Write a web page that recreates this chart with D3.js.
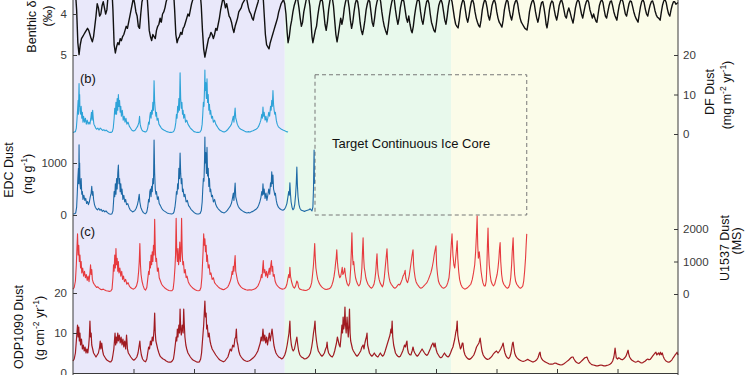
<!DOCTYPE html>
<html>
<head>
<meta charset="utf-8">
<script src="https://cdn.jsdelivr.net/npm/d3@7"></script>
<style>
  body { margin: 0; background: #fff; }
  text { font-family: "Liberation Sans", Arial, Helvetica, sans-serif; }
</style>
</head>
<body>
<svg id="chart" width="750" height="375"></svg>
<script>

// ---- data (age in kyr, value) ----

// climate regime bands (kyr)
var bands = [[0, 700], [700, 1250], [1250, 2000]];
// target continuous ice core window (kyr)
var targetCore = [800, 1500];
var ageTicks = [200, 400, 600, 800, 1000, 1200, 1400, 1600, 1800];

var benthicTicks = [4, 5];
var dfTicks = [0, 10, 20];
var edcTicks = [0, 1000];
var u1537Ticks = [0, 1000, 2000];
var odpTicks = [0, 10, 20];

// benthic d18O (permil)
var benthic = [
[0,3.23],[4,3.3],[8,3.45],[12,3.9],[16,4.7],[20,4.99],[24,4.75],[28,4.6],[32,4.55],[36,4.5],[40,4.45],[44,4.4],[48,4.35],[52,4.4],[56,4.5],[60,4.6],[64,4.68],[68,4.55],[72,4.3],[76,4.05],[80,3.75],[84,3.85],[88,4.05],[92,4.0],[96,3.8],[100,3.7],[104,3.85],[108,4.0],[112,3.9],[116,3.55],[120,3.25],[124,3.1],[128,3.3],[132,3.9],[136,4.75],[140,4.95],[144,4.8],[148,4.7],[152,4.75],[156,4.6],[160,4.65],[164,4.55],[168,4.5],[172,4.4],[176,4.3],[180,4.35],[184,4.2],[188,4.05],[192,3.9],[196,3.75],[200,3.6],[204,3.75],[208,3.95],[212,4.05],[216,4.3],[220,4.35],[224,4.0],[228,3.7],[232,3.6],[236,3.45],[240,3.35],[244,3.45],[248,3.9],[252,4.4],[256,4.55],[260,4.65],[264,4.5],[268,4.55],[272,4.6],[276,4.4],[280,4.3],[284,4.25],[288,4.1],[292,4.2],[296,4.0],[300,3.95],[304,3.85],[308,3.7],[312,3.6],[316,3.45],[320,3.4],[324,3.35],[328,3.2],[332,3.4],[336,3.9],[340,4.5],[344,4.7],[348,4.6],[352,4.55],[356,4.45],[360,4.5],[364,4.35],[368,4.3],[372,4.2],[376,4.1],[380,4.0],[384,4.05],[388,3.9],[392,3.75],[396,3.65],[400,3.45],[404,3.3],[408,3.2],[412,3.15],[416,3.25],[420,3.45],[424,3.8],[428,4.4],[432,4.85],[436,5.05],[440,4.9],[444,4.75],[448,4.6],[452,4.55],[456,4.45],[460,4.5],[464,4.6],[468,4.5],[472,4.35],[476,4.4],[480,4.25],[484,4.1],[488,3.9],[492,3.75],[496,3.6],[500,3.7],[504,3.85],[508,3.75],[512,3.9],[516,4.05],[520,4.1],[524,4.2],[528,4.35],[532,4.45],[536,4.3],[540,4.2],[544,4.1],[548,3.95],[552,3.9],[556,3.85],[560,3.75],[564,3.7],[568,3.65],[572,3.55],[576,3.7],[580,3.85],[584,3.95],[588,4.0],[592,4.1],[596,4.15],[600,4.0],[604,3.9],[608,3.8],[612,3.7],[616,3.55],[620,3.4],[624,3.3],[628,3.5],[632,4.0],[636,4.5],[640,4.75],[644,4.8],[648,4.85],[652,4.7],[656,4.6],[660,4.5],[664,4.4],[668,4.3],[672,4.2],[676,4.1],[680,3.95],[684,3.85],[688,3.75],[692,3.7],[696,3.65],
[700,3.75],[704,4.0],[708,4.45],[711,4.7],[715,4.55],[719,4.3],[723,4.15],[727,3.95],[731,3.8],[735,3.7],[739,3.6],[743,3.65],[747,3.85],[751,4.1],[755,4.3],[759,4.2],[763,3.95],[767,3.8],[771,3.65],[775,3.55],[779,3.6],[783,3.8],[787,4.2],[790,4.55],[793,4.7],[797,4.55],[801,4.4],[805,4.3],[809,4.05],[813,3.85],[817,3.7],[821,3.6],[825,3.7],[829,3.95],[833,4.25],[837,4.4],[841,4.2],[845,3.9],[849,3.7],[853,3.55],[857,3.6],[861,3.8],[865,4.15],[869,4.5],[873,4.68],[877,4.5],[881,4.3],[885,4.1],[889,4.25],[893,4.1],[897,3.85],[901,3.7],[905,3.6],[909,3.65],[913,3.85],[917,4.15],[921,4.35],[925,4.2],[929,3.95],[933,3.75],[937,3.65],[941,3.7],[945,3.9],[949,4.2],[953,4.4],[957,4.5],[961,4.35],[965,4.15],[969,3.9],[973,3.75],[977,3.65],[981,3.7],[985,3.95],[989,4.2],[993,4.3],[997,4.1],
[1001,3.85],[1005,3.7],[1009,3.6],[1013,3.55],[1017,3.7],[1021,3.95],[1025,4.15],[1029,4.3],[1033,4.4],[1038,4.5],[1042,4.3],[1046,4.05],[1050,3.85],[1054,3.7],[1058,3.6],[1062,3.65],[1066,3.9],[1070,4.1],[1074,4.25],[1078,4.1],[1082,3.85],[1086,3.7],[1090,3.6],[1094,3.7],[1098,3.9],[1102,4.1],[1106,4.2],[1110,4.05],[1114,4.25],[1118,4.4],[1121,4.46],[1125,4.3],[1129,4.05],[1133,3.85],[1137,3.7],[1141,3.6],[1145,3.7],[1149,3.95],[1153,4.15],[1157,4.25],[1161,4.05],[1165,3.85],[1169,3.7],[1173,3.65],[1177,3.75],[1181,4.0],[1185,4.2],[1189,4.3],[1193,4.4],[1197,4.44],[1201,4.25],[1205,4.0],[1209,3.8],[1213,3.7],[1217,3.65],[1221,3.75],[1225,3.95],[1229,4.15],[1233,4.25],[1237,4.05],[1241,3.8],[1245,3.65],[1249,3.6],[1253,3.7],[1257,3.9],[1261,4.1],[1265,4.25],[1269,4.3],[1273,4.34],[1277,4.15],[1281,3.9],[1285,3.75],[1289,3.65],[1293,3.7],[1297,3.9],
[1301,4.1],[1305,4.2],[1309,4.05],[1313,3.85],[1317,3.7],[1321,3.65],[1325,3.75],[1329,3.95],[1333,4.1],[1337,4.2],[1341,4.28],[1345,4.32],[1349,4.15],[1353,3.9],[1357,3.75],[1361,3.65],[1365,3.7],[1369,3.85],[1373,4.05],[1377,4.15],[1381,4.0],[1385,3.8],[1389,3.7],[1393,3.65],[1397,3.75],[1401,3.95],[1405,4.1],[1409,4.2],[1413,4.25],[1418,4.32],[1422,4.15],[1426,3.9],[1430,3.75],[1434,3.65],[1438,3.7],[1442,3.9],[1446,4.05],[1450,4.15],[1454,4.0],[1458,3.8],[1462,3.7],[1466,3.65],[1470,3.75],[1474,3.95],[1478,4.1],[1482,4.2],[1486,4.25],[1490,4.3],[1494,4.35],[1501,4.39],[1505,4.2],[1509,3.95],[1513,3.8],[1517,3.7],[1521,3.65],[1525,3.75],[1529,3.95],[1533,4.1],[1537,4.2],[1541,4.05],[1545,3.85],[1549,3.72],[1553,3.7],[1557,3.85],[1561,4.05],[1564,4.25],[1567,4.34],[1571,4.15],[1575,3.9],[1579,3.75],[1583,3.68],[1587,3.72],[1591,3.9],[1595,4.05],[1599,4.15],
[1603,4.0],[1607,3.8],[1611,3.7],[1615,3.65],[1619,3.75],[1623,3.9],[1627,4.05],[1631,4.1],[1635,3.95],[1639,3.85],[1643,3.95],[1648,4.1],[1653,4.22],[1657,4.05],[1661,3.85],[1665,3.72],[1669,3.65],[1673,3.7],[1677,3.85],[1681,4.0],[1685,4.1],[1689,3.95],[1693,3.8],[1697,3.7],[1701,3.65],[1705,3.72],[1709,3.9],[1713,4.0],[1717,4.1],[1721,4.0],[1725,4.1],[1729,4.18],[1732,4.2],[1736,4.0],[1740,3.8],[1744,3.7],[1748,3.65],[1752,3.72],[1756,3.9],[1760,4.05],[1764,4.1],[1768,3.95],[1772,3.8],[1776,3.7],[1780,3.68],[1784,3.8],[1788,3.95],[1792,4.05],[1795,4.1],[1798,4.15],[1802,3.95],[1806,3.78],[1810,3.68],[1814,3.62],[1818,3.7],[1822,3.85],[1826,4.0],[1830,4.05],[1834,3.9],[1838,3.75],[1842,3.68],[1846,3.7],[1850,3.82],[1854,3.95],[1858,4.05],[1862,4.12],[1868,4.2],[1872,4.0],[1876,3.82],[1880,3.7],[1884,3.65],[1888,3.72],[1892,3.88],[1896,4.0],
[1900,4.05],[1904,3.9],[1908,3.78],[1912,3.7],[1916,3.68],[1920,3.78],[1924,3.92],[1928,4.02],[1932,4.08],[1936,4.1],[1941,4.15],[1945,3.95],[1949,3.78],[1953,3.68],[1957,3.65],[1961,3.72],[1965,3.88],[1969,4.0],[1973,4.05],[1977,3.9],[1981,3.78],[1985,3.7],[1989,3.7],[1993,3.76],[1997,3.74],[2000,3.72]
];

// Dome Fuji dust flux (mg m-2 yr-1)
var dfDust = [
[0,0.4],[4,0.5],[8,0.6],[11,1.5],[13,3.5],[15,6],[17,8.5],[18,5],[19,9],[20,12.8],[21,7],[22,10],[23,6],[25,5],[27,7],[29,4],[31,5.5],[33,3],[35,4.5],[38,3],[41,4],[44,2.5],[47,3.5],[50,2.5],[53,3],[56,2.5],[59,4],[61,5.5],[63,3.5],[65,6],[67,4],[69,2.5],[72,2],[75,1.5],[78,1.2],[82,1.5],[86,1],[90,1.5],[94,1.2],[98,0.9],[102,1.1],[106,0.8],[110,1],[114,0.7],[118,0.5],[122,0.4],[126,0.4],[130,0.6],[133,1.5],[136,4],[138,6.5],[140,5],[142,8],[144,5],[146,9],[148,6],[150,10],[152,7],[154,8.5],[156,5.5],[158,7],[160,4.5],[163,6],[166,3.5],[169,4.5],[172,3],[175,4],[178,2.5],[182,3],[186,2],[190,1.5],[194,1],[198,0.8],
[202,0.8],[206,1],[210,1.5],[214,2],[218,3],[220,4.5],[222,2.5],[225,1.5],[228,1],[232,0.7],[236,0.6],[240,0.5],[244,0.8],[247,1.5],[250,3],[252,2.5],[254,4.5],[256,5.5],[258,4],[260,6],[262,5],[264,8],[266,6],[268,13.5],[270,8],[272,6],[274,4.5],[276,5.5],[278,3.5],[281,4],[284,2.5],[288,2],[292,1.5],[296,1.2],[300,1],[305,0.8],[310,0.6],[315,0.5],[320,0.4],[325,0.4],[330,0.5],[334,0.8],[337,1.5],[340,3],[342,5],[344,4],[346,7],[348,5.5],[350,9],[352,6],[354,15.5],[356,9],[358,6.5],[360,8],[362,5],[364,6],[366,4],[369,5],[372,3],[376,3.5],[380,2.5],[384,2],[388,1.5],[392,1.2],[396,0.9],
[400,0.6],[405,0.5],[410,0.4],[415,0.4],[420,0.5],[424,1],[427,2.5],[429,5],[431,8],[433,7],[435,12],[436,16.2],[437,11],[439,13],[441,9],[443,14],[445,8],[447,10],[449,6],[451,7.5],[453,5],[455,6],[458,4],[461,4.5],[464,3],[468,3.5],[472,2.5],[476,2],[480,1.5],[485,1],[490,0.8],[495,0.6],[500,0.5],[505,0.7],[510,1],[515,1.5],[520,2],[524,2.5],[527,3.5],[530,4.5],[532,3],[534,5],[536,6.6],[538,4],[540,3.5],[543,2.5],[546,2],[550,1.5],[555,1.2],[560,1],[565,0.8],[570,0.6],[575,0.5],[580,0.6],[585,0.5],[590,0.7],[595,0.8],
[600,1],[605,1.2],[610,1.5],[614,2],[618,2.8],[621,3.5],[624,5],[626,4],[628,6.8],[630,4.5],[632,5.5],[635,3.5],[638,4.5],[641,3],[644,4],[647,5.5],[650,4.5],[653,7],[655,6],[657,8.5],[659,7],[661,11],[663,7.5],[665,6],[667,5],[669,5.5],[672,3.5],[675,2.5],[679,1.8],[684,1.5],[689,1.2],[694,1],[700,0.8],[705,0.6],[711,0.5]
];

// EPICA Dome C dust concentration (ng g-1)
var edcDust = [
[0,20],[5,25],[9,40],[12,150],[14,400],[16,700],[18,900],[19,600],[20,1350],[21,800],[22,1000],[23,600],[25,500],[27,700],[29,400],[31,450],[33,300],[36,380],[39,280],[42,320],[45,220],[48,260],[51,200],[54,250],[57,350],[60,420],[62,550],[64,380],[66,450],[68,300],[71,200],[74,150],[77,120],[81,100],[85,130],[89,90],[93,110],[97,70],[101,90],[105,60],[109,80],[113,50],[117,30],[121,20],[125,15],[129,25],[132,80],[134,250],[136,450],[138,350],[140,600],[142,400],[144,700],[146,500],[148,800],[150,960],[152,600],[154,700],[156,450],[158,600],[160,400],[162,500],[165,300],[168,380],[171,250],[174,300],[177,200],[181,220],[185,150],[189,100],[193,80],[197,60],
[201,70],[205,90],[209,130],[213,200],[216,280],[219,400],[221,250],[224,150],[228,90],[232,50],[236,30],[240,25],[244,60],[247,150],[250,300],[252,250],[254,450],[256,500],[258,350],[260,550],[262,450],[264,700],[266,600],[268,1440],[270,800],[272,500],[274,400],[276,450],[279,300],[282,350],[285,220],[289,180],[293,130],[297,100],[301,80],[306,60],[311,40],[316,30],[321,25],[326,20],[331,30],[334,60],[337,150],[340,300],[342,450],[344,400],[346,600],[348,500],[350,900],[352,700],[354,1190],[356,800],[358,600],[360,700],[362,450],[364,500],[367,350],[370,400],[374,250],[378,280],[382,180],[386,150],[390,110],[395,80],
[400,50],[405,30],[410,20],[415,20],[420,30],[424,80],[427,250],[429,500],[431,700],[433,650],[435,1100],[436,1500],[437,1000],[439,1200],[441,800],[443,1300],[445,750],[447,900],[449,550],[451,700],[453,450],[455,500],[458,350],[461,380],[464,250],[468,300],[472,200],[476,150],[480,120],[485,90],[490,60],[495,50],[500,40],[505,60],[510,90],[515,130],[520,170],[524,230],[527,320],[530,420],[532,280],[534,450],[536,615],[538,350],[540,300],[543,220],[546,170],[550,130],[555,100],[560,80],[565,60],[570,50],[575,40],[580,50],[585,40],[590,60],[595,70],
[600,90],[605,110],[610,140],[614,190],[618,260],[621,330],[624,450],[626,380],[628,600],[630,400],[632,500],[635,320],[638,420],[641,280],[644,380],[647,500],[650,400],[653,620],[655,550],[657,830],[659,600],[661,770],[663,500],[665,450],[667,380],[669,420],[672,280],[675,200],[679,150],[684,120],[689,100],[694,90],[699,110],[703,150],[707,220],[710,330],[713,450],[715,380],[717,620],[719,400],[721,250],[724,150],[727,100],[730,120],[733,200],[736,400],[738,600],[740,920],[742,550],[744,350],[747,200],[750,130],[755,90],[760,80],[765,70],[770,80],[775,90],[780,100],[784,120],[787,100],[790,80],[793,150],[795,500],[797,1250],[798,600]
];

// U1537 dust (magnetic susceptibility)
var u1537Dust = [
[0,150],[4,200],[8,400],[11,900],[13,1400],[15,1850],[17,1200],[19,1500],[21,1000],[23,1200],[25,800],[27,1000],[29,650],[32,800],[35,550],[38,700],[41,500],[44,600],[47,420],[50,550],[53,380],[56,650],[58,900],[60,600],[62,750],[64,450],[67,350],[70,300],[74,250],[78,200],[82,220],[86,180],[90,150],[95,130],[100,150],[105,120],[110,100],[115,90],[120,80],[125,90],[129,150],[132,500],[134,900],[136,700],[138,1200],[140,800],[142,1400],[144,900],[146,1100],[148,700],[150,1000],[152,650],[155,800],[158,550],[161,700],[164,450],[167,550],[170,380],[174,450],[178,300],[182,350],[186,250],[190,200],[195,170],
[200,150],[205,180],[210,250],[214,400],[217,700],[219,1000],[221,1550],[223,900],[225,600],[228,400],[232,250],[236,150],[240,120],[244,200],[247,450],[250,700],[252,600],[254,1000],[256,800],[258,1200],[260,900],[262,1300],[264,1000],[266,1500],[268,1200],[270,2300],[272,1400],[274,1000],[276,1100],[279,700],[282,800],[285,500],[289,400],[293,300],[297,250],[302,200],[307,160],[312,130],[317,110],[322,100],[327,100],[331,150],[334,400],[337,800],[339,1200],[341,2330],[343,1300],[345,1000],[347,1400],[349,900],[351,1100],[353,1600],[355,1000],[357,1300],[359,2330],[361,1300],[363,900],[365,1000],[368,650],[371,750],[374,500],[377,550],[381,380],[385,300],[389,250],[394,200],[399,160],
[404,130],[409,110],[414,100],[419,110],[423,200],[426,500],[428,900],[430,1300],[432,1850],[434,1500],[436,1700],[438,1300],[440,1500],[442,1000],[444,1200],[447,800],[450,900],[453,600],[456,650],[460,450],[464,500],[468,350],[472,300],[477,250],[482,200],[487,170],[492,150],[497,130],[502,150],[507,180],[512,220],[516,300],[520,400],[523,500],[526,700],[528,600],[530,850],[532,700],[534,950],[536,1180],[538,700],[540,600],[543,450],[546,350],[550,280],[555,220],[560,180],[566,150],[572,130],[578,120],[584,130],[590,120],[596,140],
[602,160],[607,200],[612,260],[616,350],[620,450],[623,600],[625,500],[627,800],[629,1030],[631,650],[634,750],[637,550],[640,700],[643,500],[646,650],[649,800],[651,600],[654,900],[656,1030],[658,700],[660,850],[662,550],[665,600],[668,400],[672,300],[676,250],[681,200],[686,170],[692,150],[698,160],[703,200],[707,300],[710,450],[713,600],[715,500],[717,820],[719,550],[722,400],[725,300],[728,220],[732,180],[736,250],[740,400],[743,350],[746,200],[750,150],[756,130],[762,120],[768,110],[774,120],[780,150],[785,220],[789,350],[792,600],[795,900],[797,1200],[799,1550],
[801,1100],[803,800],[806,600],[809,450],[813,350],[817,280],[822,220],[827,180],[832,150],[837,140],[842,150],[847,160],[852,200],[856,280],[860,400],[863,550],[866,750],[868,950],[870,1100],[872,1360],[874,1000],[876,800],[879,600],[882,500],[885,550],[888,700],[890,820],[892,600],[895,650],[898,800],[901,550],[904,400],[907,300],[911,250],[915,350],[918,800],[920,1300],[922,1880],[924,1200],[926,900],[928,1000],[931,700],[934,500],[937,400],[941,300],[945,250],[949,300],[952,450],[955,800],[957,1300],[959,1730],[961,1100],[963,800],[965,700],[968,500],[971,400],[975,300],[979,250],[983,200],[987,180],[991,220],[995,300],[998,450],
[1001,700],[1003,1000],[1005,1240],[1007,800],[1009,600],[1012,450],[1015,350],[1019,280],[1023,220],[1026,300],[1029,500],[1032,800],[1035,1100],[1038,1390],[1040,1000],[1042,700],[1045,500],[1048,380],[1052,300],[1056,250],[1060,200],[1064,180],[1068,200],[1072,250],[1076,300],[1080,280],[1084,350],[1088,450],[1091,550],[1094,600],[1096,650],[1098,730],[1100,500],[1103,400],[1106,350],[1109,450],[1112,600],[1115,800],[1118,1000],[1121,1200],[1124,1360],[1126,900],[1128,700],[1131,500],[1134,380],[1138,300],[1142,250],[1146,200],[1150,180],[1155,200],[1160,250],[1165,300],[1170,350],[1175,450],[1179,550],[1183,650],[1187,800],[1191,1000],[1194,1200],[1197,1350],
[1200,1480],[1202,900],[1205,600],[1208,400],[1212,300],[1216,250],[1220,200],[1225,180],[1230,200],[1235,250],[1239,350],[1243,500],[1246,800],[1249,1300],[1251,1600],[1253,1850],[1256,1200],[1259,900],[1262,800],[1265,1100],[1268,1400],[1270,1640],[1272,1100],[1275,700],[1278,450],[1282,300],[1286,220],[1290,180],[1295,150],[1300,170],[1305,200],[1310,250],[1315,300],[1320,450],[1324,650],[1328,900],[1331,1300],[1334,1900],[1336,2400],[1338,1500],[1340,1100],[1343,1300],[1346,1000],[1349,700],[1352,500],[1355,350],[1359,250],[1363,250],[1366,400],[1368,800],[1370,1500],[1372,2030],[1374,1300],[1376,900],[1379,600],[1382,400],[1386,300],[1390,250],[1394,300],[1398,450],
[1402,600],[1405,800],[1408,1100],[1410,1400],[1412,1580],[1414,1000],[1417,600],[1420,400],[1424,300],[1428,250],[1432,200],[1436,180],[1440,200],[1444,300],[1447,500],[1450,900],[1452,1300],[1455,1730],[1457,1100],[1460,600],[1463,400],[1467,300],[1471,250],[1475,200],[1479,180],[1483,200],[1487,250],[1490,400],[1493,700],[1496,1100],[1498,1500],[1500,1850]
];

// ODP1090 dust flux (g cm-2 yr-1)
var odp1090Dust = [
[0,3],[4,3.5],[8,5],[11,8],[13,10],[15,12],[17,9],[19,11.5],[21,8],[23,10],[25,7],[28,8.5],[31,6],[34,7],[37,5.5],[40,6.5],[43,5],[46,6],[49,5],[52,7],[54,9],[56,13],[58,9],[60,10],[62,7],[65,6],[68,5],[72,4.5],[76,4],[80,4.5],[84,5],[88,6.5],[90,8],[92,6],[95,7.5],[98,5.5],[101,4.5],[105,4],[109,3.5],[113,3.2],[117,3],[121,2.8],[125,2.8],[129,3.2],[132,4.5],[135,6],[137,8],[139,10],[141,7],[143,9],[145,7.5],[148,10],[150,8],[153,9.5],[156,7.5],[159,9],[162,7],[165,8.5],[168,6.5],[171,8],[174,6],[177,9.5],[180,6],[183,5],[187,4.5],[191,4],[196,3.5],
[201,3.2],[206,3.5],[211,4],[215,5],[218,6.5],[221,8],[223,6],[226,4.5],[230,3.5],[235,3],[240,2.8],[244,3.5],[247,5],[250,6.5],[253,6],[256,8],[259,7],[262,9],[265,8],[268,11],[270,15],[272,10],[274,8],[277,7],[280,6],[284,5],[288,4.2],[293,3.8],[298,3.5],[303,3.3],[308,3],[313,2.8],[318,2.7],[323,2.7],[328,3],[332,3.5],[335,5],[338,7],[341,9],[343,8],[345,11],[347,9],[350,12],[352,10],[354,16],[356,11],[358,9.5],[361,12],[364,10],[366,16],[368,12],[370,9],[373,7],[376,6],[380,5],[384,4.5],[388,4],[393,3.5],[398,3.2],
[403,3],[408,2.8],[413,2.7],[418,2.8],[422,3.5],[425,5],[428,8],[430,10],[432,12],[434,15],[436,18],[438,14],[440,15],[442,11],[444,12],[447,9],[450,10],[453,8],[456,7],[460,6],[464,5.5],[468,5],[472,4.5],[477,4],[482,3.5],[487,3.2],[492,3],[497,2.8],[502,3],[507,3.5],[512,4],[516,5],[520,6],[524,5.5],[528,7],[532,6.5],[535,8.5],[538,9],[540,11],[542,8],[545,7],[548,5.5],[552,4.5],[556,4],[561,3.5],[566,3.2],[571,3],[576,2.9],[581,3],[586,3.2],[591,3.5],[596,3.8],
[601,4.2],[606,4.8],[611,5.5],[615,6.5],[619,7.5],[622,9],[625,8],[628,11],[631,8],[634,9.5],[637,7.5],[640,9],[643,7],[646,8.5],[649,10],[652,8],[655,9.5],[658,11],[661,9],[664,7],[667,6],[671,5],[675,4.5],[680,4],[685,3.8],[690,3.5],[695,3.8],[700,4.5],[704,5.5],[708,7],[711,8.5],[714,10],[717,13],[719,9],[722,7],[725,6],[728,5.5],[732,6],[736,7.5],[740,9],[743,7],[746,5.5],[750,4.5],[755,4],[760,3.8],[765,3.5],[770,3.6],[775,3.8],[780,4.2],[785,5],[789,6.5],[792,8],[795,10],[798,11.5],
[800,13],[802,10],[805,8],[808,6.5],[811,5.5],[815,5],[819,4.5],[823,4.2],[827,4.5],[831,5],[835,6],[838,6.5],[840,7.7],[842,6],[845,5],[849,4.5],[853,4.2],[857,4],[861,4.5],[865,5.5],[868,6.5],[871,7.5],[874,9],[877,8],[880,7],[883,6.5],[886,9],[889,12],[891,10],[893,14],[895,11],[897,12],[899,16.5],[901,12],[903,10],[906,14],[908,11],[910,9],[912,12],[914,16],[916,10],[918,8],[921,7],[924,6],[927,5.5],[931,5],[935,4.5],[939,4.2],[943,4.5],[947,5],[951,5.5],[955,6.5],[959,7],[962,6],[965,7.5],[968,8.5],[970,9],[972,10],[974,7],[977,6],[980,5],[984,4.5],[988,4.2],[992,4.5],[996,5],
[1000,4.5],[1004,4.2],[1008,4],[1012,4.5],[1016,5],[1020,4.5],[1024,4.2],[1028,4.6],[1032,5.5],[1036,6.5],[1040,7.5],[1044,8.5],[1048,9.5],[1051,11],[1053,10],[1055,13],[1057,9],[1060,7],[1063,6],[1066,5],[1070,4.5],[1074,4.2],[1078,4],[1082,4.2],[1086,4.8],[1090,5.5],[1093,6.2],[1096,7],[1099,6.5],[1102,7.5],[1104,8],[1106,6],[1109,5],[1113,4.6],[1117,4.5],[1121,5.5],[1124,6.5],[1127,5.5],[1130,5],[1134,4.5],[1138,4.2],[1142,4.5],[1146,5],[1150,5.5],[1154,6],[1158,5.5],[1162,5],[1166,4.6],[1170,4.4],[1174,4.8],[1178,5.5],[1182,6.2],[1186,7],[1190,7.5],[1194,6.5],[1197,7.5],
[1200,6],[1204,5],[1208,4.5],[1212,4],[1216,3.8],[1220,4],[1224,4.5],[1228,5],[1232,4.5],[1236,4.2],[1240,4],[1244,4.3],[1248,5],[1252,5.8],[1256,6.5],[1259,7.5],[1262,8.5],[1265,10],[1268,11],[1270,13],[1272,9.5],[1275,8],[1278,7],[1281,6],[1284,6.5],[1287,7.5],[1289,7.5],[1292,5.5],[1296,4.5],[1300,4],[1305,3.6],[1310,3.4],[1315,3.6],[1320,4],[1325,4.5],[1330,5.5],[1334,6.5],[1338,7],[1342,7.5],[1346,8.7],[1349,7],[1352,5.5],[1356,4.5],[1360,4],[1365,3.6],[1370,3.4],[1375,3.5],[1380,3.8],[1385,4.2],[1390,4.8],[1395,5.2],
[1400,5.5],[1405,5],[1410,5.5],[1415,6.2],[1419,6.8],[1422,7.5],[1425,6],[1428,5],[1432,4.2],[1436,3.8],[1440,3.6],[1444,4],[1448,5],[1451,6.5],[1453,7.5],[1455,7.7],[1457,6.5],[1460,5],[1464,4.2],[1468,3.8],[1473,3.4],[1478,3.2],[1483,3],[1488,2.9],[1493,3],[1498,3.2],[1503,3.4],[1508,3.2],[1513,3],[1518,2.8],[1523,2.8],[1528,3],[1533,3.3],[1537,3.8],[1540,4.5],[1542,5],[1544,5.2],[1546,4.2],[1549,3.6],[1553,3.2],[1558,2.9],[1563,2.7],[1568,2.5],[1573,2.3],[1578,2.2],[1583,2.2],[1588,2.3],[1593,2.5],[1598,2.4],
[1603,2.2],[1608,2.1],[1613,2.0],[1618,2.1],[1623,2.3],[1628,2.6],[1633,2.9],[1638,3.2],[1642,3.5],[1646,3.8],[1650,4],[1653,4],[1656,3.5],[1660,3],[1664,2.7],[1668,2.5],[1672,2.4],[1676,2.6],[1680,2.9],[1684,3.2],[1688,3.5],[1692,3.8],[1696,3.9],[1699,4],[1702,3.4],[1706,2.8],[1710,2.4],[1715,2.1],[1720,2],[1725,1.9],[1730,1.8],[1735,1.8],[1740,1.9],[1745,2],[1750,1.9],[1755,1.8],[1760,1.8],[1765,1.9],[1770,2],[1775,2.2],[1780,2.5],[1784,3],[1788,4],[1790,5],[1792,6.2],[1794,5],[1796,3.8],
[1800,3.5],[1804,3.8],[1808,3.6],[1812,3.4],[1816,3.3],[1820,3.5],[1824,3.8],[1828,4.2],[1831,4.8],[1833,5.3],[1835,5.7],[1837,4.8],[1840,4],[1844,3.5],[1848,3.2],[1852,3],[1856,2.8],[1860,2.7],[1864,2.8],[1868,3],[1872,2.8],[1876,2.6],[1880,2.5],[1884,2.6],[1888,2.8],[1892,3],[1896,3.3],[1900,3.5],[1904,3.3],[1908,3.4],[1912,3.8],[1916,4.2],[1920,4.6],[1924,5],[1927,5.2],[1930,4.5],[1933,4.8],[1936,5],[1939,4.5],[1942,5.2],[1945,4.6],[1948,5],[1951,4.2],[1955,3.5],[1960,3],[1965,2.8],[1970,2.7],[1975,2.9],[1980,3.3],[1984,3.8],[1988,4.2],[1991,4.6],[1994,4.8],[1997,5.2],[2000,4.5]
];

// ---- scales ----
var svg = d3.select("#chart");
var left = 73, right = 678, bottom = 373;

var x = d3.scaleLinear().domain([0, 2000]).range([left, right]);
var yBen = d3.scaleLinear().domain([4, 5]).range([14, 55]);
var yDF = d3.scaleLinear().domain([0, 20]).range([134, 55]);
var yEDC = d3.scaleLinear().domain([0, 1000]).range([215, 163]);
var yU = d3.scaleLinear().domain([0, 2000]).range([294, 229]);
var yODP = d3.scaleLinear().domain([0, 20]).range([373, 293]);

// background bands
var bandColors = ["#e9e8fa", "#e8f9ec", "#fbfce9"];
svg.selectAll("rect.band").data(bands).enter().append("rect")
    .attr("class", "band")
    .attr("x", function (d) { return x(d[0]); })
    .attr("y", 0)
    .attr("width", function (d) { return x(d[1]) - x(d[0]); })
    .attr("height", bottom)
    .attr("fill", function (d, i) { return bandColors[i]; });

// target ice core box
svg.append("rect")
    .attr("x", x(targetCore[0]))
    .attr("y", yDF(15))
    .attr("width", x(targetCore[1]) - x(targetCore[0]))
    .attr("height", yEDC(0) - yDF(15))
    .attr("fill", "none")
    .attr("stroke", "#777")
    .attr("stroke-width", 1)
    .attr("stroke-dasharray", "4,3");

svg.append("text")
    .attr("x", x(targetCore[0]) + 17)
    .attr("y", 147.5)
    .attr("font-size", 13)
    .attr("fill", "#111")
    .text("Target Continuous Ice Core");

// ---- lines ----
function drawLine(data, yScale, color, width) {
    var line = d3.line()
        .x(function (d) { return x(d[0]); })
        .y(function (d) { return yScale(d[1]); });
    svg.append("path")
        .datum(data)
        .attr("d", line)
        .attr("fill", "none")
        .attr("stroke", color)
        .attr("stroke-width", width)
        .attr("stroke-linejoin", "round");
}

drawLine(benthic, yBen, "#111", 1.4);
drawLine(dfDust, yDF, "#2ea3d8", 1.1);
drawLine(edcDust, yEDC, "#1d69a6", 1.1);
drawLine(u1537Dust, yU, "#e63a3e", 1.1);
drawLine(odp1090Dust, yODP, "#a01b21", 1.2);

// ---- axes ----
var axisColor = "#3a3a3a";
var plain = function (d) { return String(d); };

function styleAxis(g) {
    g.select(".domain").remove();
    g.attr("font-family", "Liberation Sans, Arial, sans-serif")
     .attr("font-size", 11.5)
     .attr("color", axisColor);
}

[[yBen, benthicTicks], [yEDC, edcTicks], [yODP, odpTicks]].forEach(function (a) {
    svg.append("g")
        .attr("transform", "translate(" + left + ",0)")
        .call(d3.axisLeft(a[0]).tickValues(a[1]).tickFormat(plain).tickSize(-4).tickPadding(6))
        .call(styleAxis);
});

[[yDF, dfTicks], [yU, u1537Ticks]].forEach(function (a) {
    svg.append("g")
        .attr("transform", "translate(" + right + ",0)")
        .call(d3.axisRight(a[0]).tickValues(a[1]).tickFormat(plain).tickSize(-4).tickPadding(5))
        .call(styleAxis);
});

svg.append("g")
    .attr("transform", "translate(0," + bottom + ")")
    .call(d3.axisBottom(x).tickValues(ageTicks).tickSize(-4).tickFormat(""))
    .call(styleAxis);

// axis lines
svg.append("line").attr("x1", left).attr("x2", left).attr("y1", 0).attr("y2", 375)
    .attr("stroke", axisColor).attr("stroke-width", 1);
svg.append("line").attr("x1", right).attr("x2", right).attr("y1", 0).attr("y2", 375)
    .attr("stroke", axisColor).attr("stroke-width", 1);
svg.append("line").attr("x1", left).attr("x2", right).attr("y1", bottom + 0.5).attr("y2", bottom + 0.5)
    .attr("stroke", axisColor).attr("stroke-width", 1);

// ---- titles ----
function vLabel(cx, cy, parts) {
    var t = svg.append("text")
        .attr("transform", "translate(" + cx + "," + cy + ") rotate(-90)")
        .attr("text-anchor", "middle")
        .attr("dy", "0.35em")
        .attr("font-size", 12.5)
        .attr("fill", "#111");
    parts.forEach(function (p) {
        var s = t.append("tspan").text(p[0]);
        if (p[1] === "sup") s.attr("font-size", 8.5).attr("dy", -5);
        if (p[1] === "base") s.attr("dy", 5);
    });
}

vLabel(31.5, 17, [["Benthic \u03b4"], ["18", "sup"], ["O", "base"]]);
vLabel(48, 16, [["(\u2030)"]]);
vLabel(8.5, 170, [["EDC Dust"]]);
vLabel(28, 174, [["(ng g"], ["-1", "sup"], [")", "base"]]);
vLabel(18.5, 327, [["ODP1090 Dust"]]);
vLabel(40, 328, [["(g cm"], ["-2", "sup"], [" yr", "base"], ["-1", "sup"], [")", "base"]]);
vLabel(710, 92, [["DF Dust"]]);
vLabel(727, 95, [["(mg m"], ["-2", "sup"], [" yr", "base"], ["-1", "sup"], [")", "base"]]);
vLabel(725, 248, [["U1537 Dust"]]);
vLabel(737, 241, [["(MS)"]]);

svg.append("text").attr("x", 80).attr("y", 82.5).attr("font-size", 13).attr("fill", "#111").text("(b)");
svg.append("text").attr("x", 80).attr("y", 236).attr("font-size", 13).attr("fill", "#111").text("(c)");

</script>
</body>
</html>
